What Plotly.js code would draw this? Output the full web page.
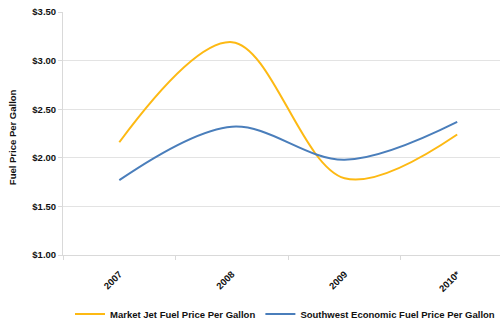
<!DOCTYPE html>
<html>
<head>
<script src="https://cdn.plot.ly/plotly-3.0.1.min.js"></script>
<style>html,body{margin:0;padding:0;background:#fff}#chart{width:500px;height:322px}</style>
</head>
<body>
<div id="chart"></div>
<script>
const years = ["2007", "2008", "2009", "2010*"];
const marketJetFuel = [2.16, 3.19, 1.79, 2.24];
const southwestFuel = [1.77, 2.32, 1.98, 2.37];
const seriesNames = ["Market Jet Fuel Price Per Gallon", "Southwest Economic Fuel Price Per Gallon"];
const yTicks = [1.0, 1.5, 2.0, 2.5, 3.0, 3.5];

const font = {family: "Liberation Sans, Arial, sans-serif", size: 9, color: "#111"};

const traces = [
  {x: years, y: marketJetFuel, name: seriesNames[0], type: "scatter", mode: "lines",
   line: {color: "#FDB913", width: 2, shape: "spline", smoothing: 1}},
  {x: years, y: southwestFuel, name: seriesNames[1], type: "scatter", mode: "lines",
   line: {color: "#4A7EBB", width: 2, shape: "spline", smoothing: 1}}
];

const layout = {
  width: 500, height: 322,
  margin: {l: 63, r: 0, t: 12, b: 67},
  paper_bgcolor: "#fff", plot_bgcolor: "#fff",
  font: font,
  showlegend: true,
  legend: {orientation: "h", x: 0.525, xanchor: "center", xref: "paper",
           y: 8 / 322, yanchor: "middle", yref: "container",
           font: {family: font.family, size: 9.5, color: "#111", weight: "bold"}, itemwidth: 30, tracegroupgap: 0},
  xaxis: {type: "category", range: [-0.5, 3.38], showgrid: false, zeroline: false, automargin: false,
          showline: true, linecolor: "#d9d9d9", linewidth: 1,
          ticks: "outside", tickson: "boundaries", ticklen: 4, tickcolor: "#d9d9d9",
          ticklabelstandoff: 9,
          tickangle: -45, tickfont: {family: font.family, size: 9.5, color: "#111", weight: "bold"}},
  yaxis: {range: [1.0, 3.5], tickvals: yTicks, ticktext: yTicks.map(v => "$" + v.toFixed(2)),
          showgrid: true, gridcolor: "#e3e3e3", gridwidth: 1.2, zeroline: false, automargin: false,
          showline: true, linecolor: "#d9d9d9", linewidth: 1,
          ticks: "outside", ticklen: 4, tickcolor: "#d9d9d9",
          tickfont: {family: font.family, size: 9.5, color: "#111", weight: "bold"}},
  annotations: [{text: "Fuel Price Per Gallon", xref: "paper", yref: "paper",
                 x: -(63 - 12) / 437, y: 0.485, xanchor: "center", yanchor: "middle",
                 textangle: -90, showarrow: false,
                 font: {family: font.family, size: 9.5, color: "#111", weight: "bold"}}]
};

Plotly.newPlot("chart", traces, layout, {displayModeBar: false, staticPlot: true});
</script>
</body>
</html>
